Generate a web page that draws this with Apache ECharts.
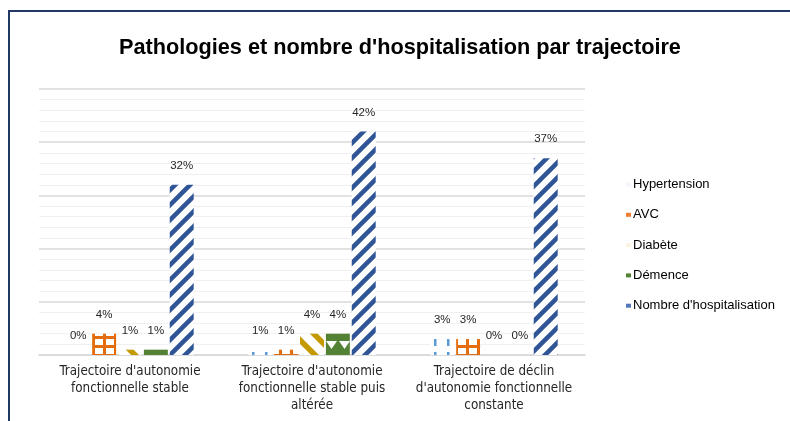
<!DOCTYPE html>
<html>
<head>
<meta charset="utf-8">
<script src="https://cdn.jsdelivr.net/npm/echarts@6/dist/echarts.min.js"></script>
<style>
  html, body { margin: 0; padding: 0; background: #fff; }
  #chart { width: 790px; height: 421px; }
</style>
</head>
<body>
<div id="chart"></div>
<script>
// Trajectories (x categories) and their wrapped tick labels
var categories = [
  "Trajectoire d'autonomie fonctionnelle stable",
  "Trajectoire d'autonomie fonctionnelle stable puis altérée",
  "Trajectoire de déclin d'autonomie fonctionnelle constante"
];
var tickLabels = [
  "Trajectoire d'autonomie\nfonctionnelle stable",
  "Trajectoire d'autonomie\nfonctionnelle stable puis\naltérée",
  "Trajectoire de déclin\nd'autonomie fonctionnelle\nconstante"
];

// Percentages per series, one value per trajectory
var hypertension = [0, 1, 3];
var avc = [4, 1, 3];
var diabete = [1, 4, 0];
var demence = [1, 4, 0];
var hospitalisation = [32, 42, 37];

var seriesNames = ['Hypertension', 'AVC', 'Diabète', 'Démence', "Nombre d'hospitalisation"];

// Pattern fills drawn on small tiles
function tile(w, h, draw) {
  var c = document.createElement('canvas');
  c.width = w; c.height = h;
  var ctx = c.getContext('2d');
  ctx.fillStyle = '#ffffff';
  ctx.fillRect(0, 0, w, h);
  draw(ctx, w, h);
  return { image: c, repeat: 'repeat' };
}

var patHyper = tile(13, 14, function (ctx) {
  ctx.fillStyle = '#5b9bd5';
  ctx.fillRect(5, 2, 2.5, 8);
});
var patAvc = tile(11, 9, function (ctx) {
  ctx.fillStyle = '#e46c0a';
  ctx.fillRect(4, 0, 3, 9);
  ctx.fillRect(0, 3, 11, 3);
});
var patDiab = tile(20, 20, function (ctx) {
  ctx.strokeStyle = '#c49a00';
  ctx.lineWidth = 5.5;
  ctx.beginPath();
  ctx.moveTo(-5, -5); ctx.lineTo(25, 25);
  ctx.moveTo(-5, 15); ctx.lineTo(5, 25);
  ctx.moveTo(15, -5); ctx.lineTo(25, 5);
  ctx.stroke();
});
var patDem = tile(13, 16, function (ctx) {
  ctx.fillStyle = '#548235';
  ctx.fillRect(0, 0, 13, 16);
  ctx.fillStyle = '#ffffff';
  ctx.beginPath();
  ctx.moveTo(1, 5); ctx.lineTo(12, 5); ctx.lineTo(6.5, 13);
  ctx.closePath();
  ctx.fill();
});
var patHosp = tile(15, 15, function (ctx) {
  ctx.strokeStyle = '#2f5597';
  ctx.lineWidth = 4.5;
  ctx.beginPath();
  ctx.moveTo(-3, 18); ctx.lineTo(18, -3);
  ctx.moveTo(-3, 3); ctx.lineTo(3, -3);
  ctx.moveTo(12, 18); ctx.lineTo(18, 12);
  ctx.stroke();
});

var fills = [patHyper, patAvc, patDiab, patDem, patHosp];
var legendColors = ['#f3f7fc', '#ed7d31', '#faf4e0', '#548235', '#5377b8'];
var values = [hypertension, avc, diabete, demence, hospitalisation];

var chart = echarts.init(document.getElementById('chart'));

chart.setOption({
  animation: false,
  backgroundColor: '#ffffff',
  title: {
    text: "Pathologies et nombre d'hospitalisation par trajectoire",
    left: 114,
    top: 32,
    textStyle: { fontFamily: 'Liberation Sans, Arial, sans-serif', fontSize: 21.7, fontWeight: 'bold', color: '#000' }
  },
  graphic: [{
    type: 'polyline',
    shape: { points: [[9, 421], [9, 11], [790, 11]] },
    style: { stroke: '#1f3864', lineWidth: 2, fill: null }
  }],
  legend: {
    orient: 'vertical',
    left: 621,
    top: 173,
    itemWidth: 5,
    itemHeight: 4,
    itemGap: 17.3,
    icon: 'rect',
    textStyle: { fontFamily: 'Liberation Sans, Arial, sans-serif', fontSize: 13, color: '#000', padding: [0, 0, 0, -3] },
    data: seriesNames.map(function (n, i) {
      return { name: n, itemStyle: { color: legendColors[i] } };
    })
  },
  grid: { left: 39, right: 205, top: 89, bottom: 66, containLabel: false },
  xAxis: {
    type: 'category',
    data: categories,
    axisTick: { show: false },
    axisLine: { lineStyle: { color: '#d9d9d9', width: 1.5 } },
    axisLabel: {
      interval: 0,
      margin: 8,
      lineHeight: 17,
      fontFamily: 'DejaVu Sans Condensed, Liberation Sans, sans-serif',
      fontSize: 13.3,
      color: '#262626',
      formatter: function (v, i) { return tickLabels[i]; }
    }
  },
  yAxis: {
    type: 'value',
    min: 0,
    max: 50,
    interval: 10,
    axisLabel: { show: false },
    axisLine: { show: false },
    axisTick: { show: false },
    splitLine: { lineStyle: { color: '#d9d9d9', width: 1.5 } },
    minorTick: { show: false, splitNumber: 5 },
    minorSplitLine: { show: true, lineStyle: { color: '#f0f0f0', width: 1 } }
  },
  series: seriesNames.map(function (n, i) {
    return {
      name: n,
      type: 'bar',
      data: values[i],
      barCategoryGap: '30%',
      barGap: '8%',
      itemStyle: { color: fills[i] },
      label: {
        show: true,
        position: 'top',
        distance: 13,
        formatter: '{c}%',
        fontFamily: 'Liberation Sans, Arial, sans-serif',
        fontSize: 11.5,
        color: '#262626'
      }
    };
  })
});
</script>
</body>
</html>
